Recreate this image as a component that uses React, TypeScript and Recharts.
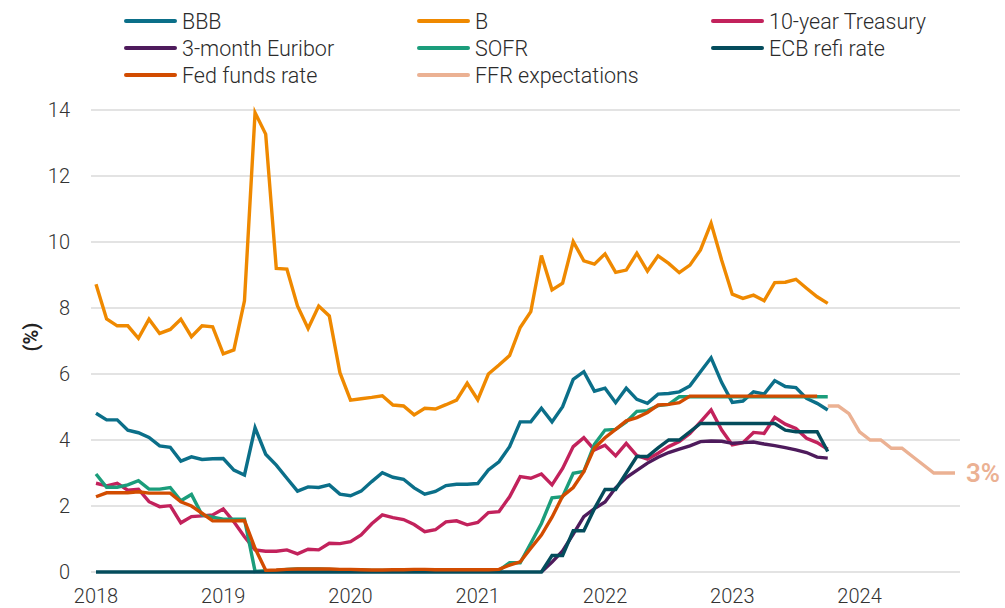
import { CartesianGrid, Label, Line, LineChart, XAxis, YAxis } from "recharts";

// Jan 2018 .. Oct 2024, monthly
const years = [2018, 2019, 2020, 2021, 2022, 2023, 2024];
const lastMonthOf2024 = 10;
const months: string[] = [];
years.forEach((y) => {
  const end = y === 2024 ? lastMonthOf2024 : 12;
  for (let m = 1; m <= end; m++) months.push(`${y}-${String(m).padStart(2, "0")}`);
});

const yTicks = [0, 2, 4, 6, 8, 10, 12, 14];

const bbb = [
  4.81, 4.61, 4.61, 4.3, 4.22, 4.08, 3.82, 3.78, 3.36, 3.49, 3.41, 3.43,
  3.44, 3.09, 2.94, 4.37, 3.57, 3.24, 2.84, 2.45, 2.58, 2.56, 2.64, 2.36,
  2.31, 2.45, 2.74, 3.01, 2.87, 2.81, 2.55, 2.36, 2.44, 2.62, 2.66, 2.66,
  2.68, 3.09, 3.34, 3.8, 4.55, 4.55, 4.96, 4.55, 5.01, 5.84, 6.07, 5.48,
  5.57, 5.13, 5.57, 5.23, 5.11, 5.39, 5.41, 5.46, 5.64, 6.07, 6.49, 5.74,
  5.14, 5.18, 5.46, 5.39, 5.8, 5.62, 5.59, 5.26, 5.11, 4.91,
];

const b = [
  8.72, 7.67, 7.46, 7.46, 7.08, 7.66, 7.23, 7.35, 7.66, 7.13, 7.46, 7.43,
  6.61, 6.73, 8.22, 13.92, 13.27, 9.2, 9.18, 8.06, 7.38, 8.06, 7.76, 6.04,
  5.21, 5.25, 5.29, 5.34, 5.06, 5.03, 4.76, 4.96, 4.94, 5.07, 5.21, 5.72,
  5.22, 6.0, 6.27, 6.56, 7.41, 7.89, 9.59, 8.55, 8.75, 10.01, 9.43, 9.33,
  9.64, 9.08, 9.15, 9.66, 9.12, 9.58, 9.35, 9.07, 9.3, 9.76, 10.57, 9.45,
  8.42, 8.29, 8.39, 8.22, 8.77, 8.78, 8.87, 8.6, 8.34, 8.14,
];

const treasury10y = [
  2.69, 2.61, 2.69, 2.48, 2.51, 2.13, 1.98, 2.01, 1.49, 1.68, 1.7, 1.73,
  1.91, 1.52, 1.07, 0.67, 0.63, 0.63, 0.67, 0.55, 0.69, 0.67, 0.87, 0.86,
  0.92, 1.12, 1.46, 1.73, 1.65, 1.59, 1.44, 1.22, 1.28, 1.52, 1.55, 1.43,
  1.5, 1.8, 1.83, 2.28, 2.89, 2.84, 2.97, 2.64, 3.14, 3.8, 4.07, 3.7,
  3.84, 3.52, 3.9, 3.53, 3.42, 3.6, 3.8, 3.95, 4.2, 4.55, 4.91, 4.3,
  3.85, 3.92, 4.23, 4.2, 4.69, 4.48, 4.35, 4.05, 3.92, 3.72,
];

// Euribor is below zero (off the chart) until mid-2021 in this picture
const euriborStart = 42;
const euribor = [
  0.0, 0.3, 0.64, 1.15, 1.68, 1.92, 2.12, 2.55, 2.86, 3.08, 3.3, 3.48,
  3.62, 3.72, 3.82, 3.95, 3.97, 3.96, 3.9, 3.92, 3.94, 3.88, 3.83, 3.77,
  3.7, 3.62, 3.48, 3.45,
];

const sofr = [
  2.97, 2.57, 2.57, 2.64, 2.77, 2.51, 2.51, 2.56, 2.16, 2.35, 1.73, 1.66,
  1.6, 1.6, 1.6, 0.02, 0.04, 0.05, 0.08, 0.09, 0.09, 0.09, 0.08, 0.07,
  0.07, 0.06, 0.05, 0.05, 0.05, 0.05, 0.05, 0.05, 0.05, 0.05, 0.05, 0.05,
  0.05, 0.05, 0.05, 0.28, 0.28, 0.87, 1.47, 2.25, 2.28, 2.99, 3.05, 3.87,
  4.3, 4.32, 4.55, 4.87, 4.89, 5.04, 5.08, 5.31, 5.31, 5.31, 5.31, 5.31,
  5.31, 5.31, 5.31, 5.31, 5.31, 5.31, 5.31, 5.31, 5.31, 5.31,
];

const ecbRefi = [
  0, 0, 0, 0, 0, 0, 0, 0, 0, 0, 0, 0,
  0, 0, 0, 0, 0, 0, 0, 0, 0, 0, 0, 0,
  0, 0, 0, 0, 0, 0, 0, 0, 0, 0, 0, 0,
  0, 0, 0, 0, 0, 0, 0, 0.5, 0.5, 1.25, 1.25, 1.92,
  2.5, 2.5, 3.0, 3.5, 3.5, 3.76, 4.0, 4.0, 4.25, 4.5, 4.5, 4.5,
  4.5, 4.5, 4.5, 4.5, 4.5, 4.3, 4.25, 4.25, 4.25, 3.65,
];

const fedFunds = [
  2.28, 2.4, 2.4, 2.4, 2.43, 2.39, 2.39, 2.39, 2.13, 2.0, 1.78, 1.55,
  1.55, 1.55, 1.56, 0.72, 0.05, 0.06, 0.08, 0.09, 0.09, 0.09, 0.09, 0.08,
  0.08, 0.07, 0.06, 0.06, 0.07, 0.07, 0.08, 0.08, 0.07, 0.07, 0.07, 0.07,
  0.07, 0.07, 0.08, 0.21, 0.31, 0.72, 1.12, 1.66, 2.3, 2.56, 3.04, 3.76,
  4.07, 4.32, 4.58, 4.68, 4.83, 5.06, 5.08, 5.13, 5.33, 5.33, 5.33, 5.33,
  5.33, 5.33, 5.33, 5.33, 5.33, 5.33, 5.33, 5.33, 5.33,
];

const ffrExpStart = 69;
const ffrExpectations = [5.03, 5.03, 4.8, 4.25, 4.0, 4.0, 3.75, 3.75, 3.5, 3.25, 3.0, 3.0, 3.0];

const series = [
  { key: "bbb", name: "BBB", color: "#0b6f89" },
  { key: "b", name: "B", color: "#ef8900" },
  { key: "t10", name: "10-year Treasury", color: "#c2225c" },
  { key: "euribor", name: "3-month Euribor", color: "#4e1b5c" },
  { key: "sofr", name: "SOFR", color: "#1b9d7b" },
  { key: "ecb", name: "ECB refi rate", color: "#044c5c" },
  { key: "ffr", name: "Fed funds rate", color: "#d24c00" },
  { key: "exp", name: "FFR expectations", color: "#ebb193" },
];

const pick = (arr: number[], i: number, start = 0) =>
  i >= start && i - start < arr.length ? arr[i - start] : null;

const data = months.map((month, i) => ({
  month,
  bbb: pick(bbb, i),
  b: pick(b, i),
  t10: pick(treasury10y, i),
  euribor: pick(euribor, i, euriborStart),
  sofr: pick(sofr, i),
  ecb: pick(ecbRefi, i),
  ffr: pick(fedFunds, i),
  exp: pick(ffrExpectations, i, ffrExpStart),
}));

const FONT = "Roboto, 'Noto Sans', sans-serif";
const legendCols = [124, 417, 711];
const legendRows = [21, 48, 75];

function ExpLabel(props: any) {
  const { x, y, index, value } = props;
  if (index !== data.length - 1) return <g />;
  return (
    <text x={x + 11} y={y} dy="0.36em" fill="#ebb193" fontSize={26} fontWeight={600} fontFamily={FONT}>
      {`${value}%`}
    </text>
  );
}

export default function App() {
  return (
    <div style={{ position: "absolute", left: 0, top: 0, width: 1005, height: 608, background: "#fff", fontFamily: FONT }}>
      <LineChart width={1005} height={608} data={data} margin={{ top: 110, right: 45, bottom: 0, left: 0 }}>
        <CartesianGrid vertical={false} stroke="#dadada" strokeWidth={1.5} />
        <XAxis
          dataKey="month"
          interval={11}
          padding={{ left: 5, right: 5 }}
          axisLine={false}
          tickLine={false}
          tickSize={0}
          tickMargin={17}
          height={36}
          tick={{ fill: "#333", fontSize: 20, fontWeight: 300, fontFamily: FONT }}
          tickFormatter={(v: string) => v.slice(0, 4)}
        />
        <YAxis
          domain={[0, 14]}
          ticks={yTicks}
          width={91}
          axisLine={false}
          tickLine={false}
          tickSize={0}
          tickMargin={21}
          tick={{ fill: "#333", fontSize: 20, fontWeight: 300, fontFamily: FONT }}
        >
          <Label
            content={(p: any) => {
              const vb = p.viewBox || { y: 110, height: 462 };
              const cy = vb.y + vb.height / 2 - 4;
              return (
                <text
                  x={31}
                  y={cy}
                  transform={`rotate(-90 31 ${cy})`}
                  textAnchor="middle"
                  dy="0.36em"
                  fontSize={20}
                  fontWeight={700}
                  fill="#222"
                  fontFamily={FONT}
                >
                  (%)
                </text>
              );
            }}
          />
        </YAxis>
        {series.map((s) => (
          <Line
            key={s.key}
            type="linear"
            dataKey={s.key}
            name={s.name}
            stroke={s.color}
            strokeWidth={3.4}
            dot={false}
            activeDot={false}
            isAnimationActive={false}
            label={s.key === "exp" ? <ExpLabel /> : undefined}
          />
        ))}
      </LineChart>
      {series.map((s, k) => {
        const x = legendCols[k % 3];
        const y = legendRows[Math.floor(k / 3)];
        return (
          <div key={s.key} style={{ position: "absolute", left: x, top: y - 13, height: 26, display: "flex", alignItems: "center" }}>
            <div style={{ width: 53, height: 4, borderRadius: 2, background: s.color }} />
            <span style={{ marginLeft: 5, fontSize: 21.5, fontWeight: 300, color: "#2b2b2b", whiteSpace: "nowrap" }}>{s.name}</span>
          </div>
        );
      })}
    </div>
  );
}
